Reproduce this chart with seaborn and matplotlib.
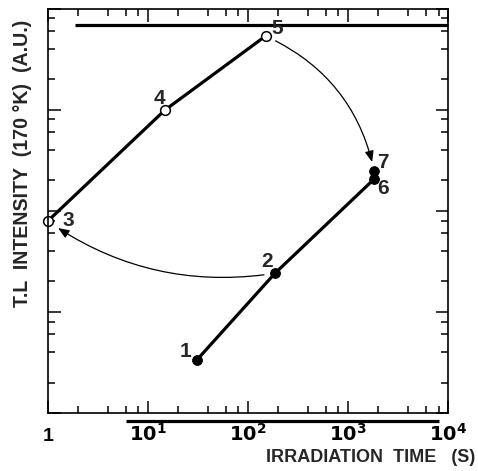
import matplotlib
matplotlib.use("Agg")
import matplotlib.pyplot as plt
import matplotlib.transforms as mtransforms
from matplotlib.ticker import LogLocator, NullFormatter
import seaborn as sns
import pandas as pd

# ---- data ----
filled_labels = ["1", "2", "6"]
filled_time = [30.8, 186, 1810]
filled_intensity = [3.34, 24.1, 205]

open_labels = ["3", "4", "5"]
open_time = [1.0, 14.8, 150]
open_intensity = [79, 990, 5350]

extra_label = ["7"]
extra_time = [1820]
extra_intensity = [248]

saturation_level = 6880
saturation_start = 1.87
lower_scale_range = [6.1, 8130]

xtick_values = [1, 10, 100, 1000, 10000]
xtick_labels = ["1", "$10^{1}$", "$10^{2}$", "$10^{3}$", "$10^{4}$"]
x_label = "IRRADIATION  TIME   (S)"
y_label = "T.L  INTENSITY  (170 \u00b0K)  (A.U.)"

sns.set_style("ticks")
plt.rcParams["font.family"] = ["Liberation Sans Narrow", "Liberation Sans", "DejaVu Sans"]
plt.rcParams["font.weight"] = "bold"
plt.rcParams["axes.labelweight"] = "bold"
plt.rcParams["mathtext.fontset"] = "custom"
plt.rcParams["mathtext.rm"] = "Liberation Sans Narrow:bold"
plt.rcParams["mathtext.it"] = "Liberation Sans Narrow:bold"
plt.rcParams["mathtext.bf"] = "Liberation Sans Narrow:bold"

fig = plt.figure(figsize=(4.78, 4.71), dpi=100)
ax = fig.add_axes([0.0998, 0.1231, 0.8380, 0.8588])

df_filled = pd.DataFrame({"time": filled_time, "intensity": filled_intensity})
df_open = pd.DataFrame({"time": open_time, "intensity": open_intensity})
df_extra = pd.DataFrame({"time": extra_time, "intensity": extra_intensity})

sns.lineplot(data=df_filled, x="time", y="intensity", sort=False, ax=ax,
             color="black", lw=2.3, marker="o", markersize=7,
             markerfacecolor="black", markeredgecolor="black", clip_on=False)
sns.lineplot(data=df_open, x="time", y="intensity", sort=False, ax=ax,
             color="black", lw=2.3, marker="o", markersize=7,
             markerfacecolor="white", markeredgecolor="black",
             markeredgewidth=1.1, clip_on=False)
sns.scatterplot(data=df_extra, x="time", y="intensity", ax=ax, color="black",
                s=50, edgecolor="black", zorder=5, clip_on=False)

ax.set_xscale("log")
ax.set_yscale("log")
ax.set_xlim(1, 1e4)
ax.set_ylim(1, 1e4)

# horizontal saturation line at the top
ax.plot([saturation_start, 1e4], [saturation_level, saturation_level],
        color="black", lw=2.3, solid_capstyle="butt", clip_on=False)

# secondary scale line below the axes
trans = mtransforms.blended_transform_factory(ax.transData, ax.transAxes)
ax.plot(lower_scale_range, [-0.019, -0.019], color="black", lw=2.3,
        transform=trans, clip_on=False, solid_capstyle="butt")

# arrows
ax.annotate("", xy=(extra_time[0], extra_intensity[0]),
            xytext=(open_time[2], open_intensity[2]),
            arrowprops=dict(arrowstyle="-|>,head_length=0.55,head_width=0.22",
                            connectionstyle="arc3,rad=-0.25", color="black",
                            lw=0.9, shrinkA=8, shrinkB=6.5, mutation_scale=12))
ax.annotate("", xy=(open_time[0], open_intensity[0]),
            xytext=(filled_time[1], filled_intensity[1]),
            arrowprops=dict(arrowstyle="-|>,head_length=0.55,head_width=0.22",
                            connectionstyle="arc3,rad=-0.2", color="black",
                            lw=0.9, shrinkA=8, shrinkB=9, mutation_scale=12))

# point labels
offsets = {"1": (-8, 6.5), "2": (-6, 8.4), "3": (15, 0.7), "4": (-4, 8.4),
           "5": (8, 5.5), "6": (6.3, -6.5), "7": (6, 6.3)}
for labs, ts, vs in [(filled_labels, filled_time, filled_intensity),
                     (open_labels, open_time, open_intensity),
                     (extra_label, extra_time, extra_intensity)]:
    for lab, t, v in zip(labs, ts, vs):
        ax.annotate(lab, xy=(t, v), xytext=offsets[lab], textcoords="offset points",
                    ha="center", va="center", fontsize=15)

# ticks
for axis in (ax.xaxis, ax.yaxis):
    axis.set_major_locator(LogLocator(base=10, numticks=10))
    axis.set_minor_locator(LogLocator(base=10, subs=(2, 4, 6, 8), numticks=10))
    axis.set_minor_formatter(NullFormatter())
ax.set_xticks(xtick_values)
ax.set_xticklabels(xtick_labels)
ax.set_yticklabels([])
ax.tick_params(which="both", direction="in", top=True, right=True, width=1.1,
               colors="black")
ax.tick_params(which="major", length=9)
ax.tick_params(which="minor", length=5)
ax.tick_params(axis="x", which="major", labelsize=14, pad=20)
ax.tick_params(axis="y", labelleft=False)
for lab in ax.get_xticklabels():
    lab.set_va("baseline")

for sp in ax.spines.values():
    sp.set_linewidth(1.2)
    sp.set_color("black")

xl = ax.set_xlabel(x_label, fontsize=13, ha="right", va="top", fontweight="bold")
ax.xaxis.set_label_coords(1.0667, -0.089)
yl = ax.set_ylabel(y_label, fontsize=15, va="bottom", fontweight="bold")
ax.yaxis.set_label_coords(-0.039, 0.616)

# scale the y label so it spans the reference extent
fig.canvas.draw()
r = fig.canvas.get_renderer()
h = yl.get_window_extent(r).height
yl.set_fontsize(15 * 288 / h)

fig.savefig("out.png", dpi=100)
